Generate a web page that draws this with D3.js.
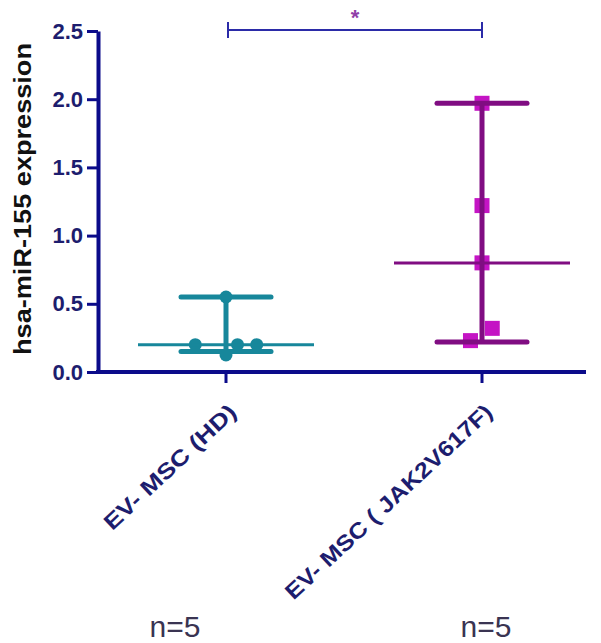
<!DOCTYPE html>
<html>
<head>
<meta charset="utf-8">
<script src="https://cdn.jsdelivr.net/npm/d3@7"></script>
<style>
  body { margin: 0; background: #fff; }
  svg text { font-family: "Liberation Sans", Arial, sans-serif; }
</style>
</head>
<body>
<div id="chart"></div>
<script>
const width = 601;
const height = 643;

// data
const groups = ['EV- MSC (HD)', 'EV- MSC ( JAK2V617F)'];
const hdValues = [0.20, 0.55, 0.125, 0.20, 0.20];
const hdJitter = [-0.12, 0, 0, 0.045, 0.12];
const jakValues = [1.97, 1.22, 0.80, 0.32, 0.23];
const jakJitter = [0, 0, 0, 0.04, -0.045];
const medians = [0.20, 0.80];
const rangeLow = [0.15, 0.22];
const rangeHigh = [0.55, 1.97];
const yTicks = [0, 0.5, 1.0, 1.5, 2.0, 2.5];
const nLabels = ['n=5', 'n=5'];
const sigLabel = '*';

const teal = '#17879b';
const purpleLine = '#800d82';
const purpleFill = '#c414c4';
const navy = '#0b0b8a';
const tickText = '#1d1d6e';

const svg = d3.select('#chart')
  .append('svg')
  .attr('width', width)
  .attr('height', height);

const yScale = d3.scaleLinear().domain([0, 2.5]).range([372, 31]);
const xScale = d3.scalePoint().domain(groups).range([226, 482]);
const step = xScale(groups[1]) - xScale(groups[0]);

// points first, lines go over them
const hd = hdValues.map((v, i) => ({ g: groups[0], v: v, j: hdJitter[i] }));
const jak = jakValues.map((v, i) => ({ g: groups[1], v: v, j: jakJitter[i] }));

svg.selectAll('circle.pt').data(hd)
  .enter().append('circle')
  .attr('class', 'pt')
  .attr('cx', d => xScale(d.g) + d.j * step)
  .attr('cy', d => yScale(d.v))
  .attr('r', 6.5)
  .attr('fill', teal);

svg.selectAll('rect.pt').data(jak)
  .enter().append('rect')
  .attr('class', 'pt')
  .attr('x', d => xScale(d.g) + d.j * step - 7.5)
  .attr('y', d => yScale(d.v) - 7.5)
  .attr('width', 15)
  .attr('height', 15)
  .attr('fill', purpleFill);

const stats = groups.map((g, i) => ({
  g: g, med: medians[i], lo: rangeLow[i], hi: rangeHigh[i],
  col: i === 0 ? teal : purpleLine
}));

const st = svg.selectAll('g.stat').data(stats).enter().append('g').attr('class', 'stat');

// range whisker
st.append('line')
  .attr('x1', d => xScale(d.g)).attr('x2', d => xScale(d.g))
  .attr('y1', d => yScale(d.lo)).attr('y2', d => yScale(d.hi))
  .attr('stroke', d => d.col).attr('stroke-width', 5);

st.selectAll('line.cap').data(d => [{ d: d, v: d.lo }, { d: d, v: d.hi }])
  .enter().append('line')
  .attr('class', 'cap')
  .attr('x1', c => xScale(c.d.g) - 45).attr('x2', c => xScale(c.d.g) + 45)
  .attr('y1', c => yScale(c.v)).attr('y2', c => yScale(c.v))
  .attr('stroke', c => c.d.col).attr('stroke-width', 5)
  .attr('stroke-linecap', 'round');

// median
st.append('line')
  .attr('x1', d => xScale(d.g) - 88).attr('x2', d => xScale(d.g) + 88)
  .attr('y1', d => yScale(d.med)).attr('y2', d => yScale(d.med))
  .attr('stroke', d => d.col).attr('stroke-width', 3);

// y axis
const yAxis = d3.axisLeft(yScale)
  .tickValues(yTicks)
  .tickFormat(d3.format('.1f'))
  .tickSize(11)
  .tickSizeOuter(0)
  .tickPadding(4);

const yG = svg.append('g')
  .attr('transform', 'translate(98,0)')
  .call(yAxis);
yG.select('.domain').attr('stroke', navy).attr('stroke-width', 4);
yG.selectAll('.tick line').attr('stroke', navy).attr('stroke-width', 3);
yG.selectAll('.tick text')
  .attr('fill', tickText)
  .attr('font-size', 22)
  .attr('font-weight', 'bold');

// x axis
svg.append('line')
  .attr('x1', 96).attr('x2', 586)
  .attr('y1', yScale(0)).attr('y2', yScale(0))
  .attr('stroke', navy).attr('stroke-width', 4);

svg.selectAll('line.xtick').data(groups)
  .enter().append('line')
  .attr('class', 'xtick')
  .attr('x1', d => xScale(d)).attr('x2', d => xScale(d))
  .attr('y1', yScale(0)).attr('y2', yScale(0) + 11)
  .attr('stroke', navy).attr('stroke-width', 3);

const labLen = [172, 274];
svg.selectAll('text.xlab').data(groups)
  .enter().append('text')
  .attr('class', 'xlab')
  .attr('transform', d => `translate(${xScale(d) + 12},414) rotate(-43)`)
  .attr('text-anchor', 'end')
  .attr('font-size', 22)
  .attr('font-weight', 'bold')
  .attr('fill', tickText)
  .attr('textLength', (d, i) => labLen[i])
  .attr('lengthAdjust', 'spacingAndGlyphs')
  .text(d => d);

const nX = [175, 486];
svg.selectAll('text.nlab').data(groups)
  .enter().append('text')
  .attr('class', 'nlab')
  .attr('x', (d, i) => nX[i])
  .attr('y', 637)
  .attr('text-anchor', 'middle')
  .attr('font-size', 30)
  .attr('fill', '#3a3452')
  .text((d, i) => nLabels[i]);

// y title
svg.append('text')
  .attr('transform', 'translate(31,199) rotate(-90)')
  .attr('text-anchor', 'middle')
  .attr('font-size', 23)
  .attr('font-weight', 'bold')
  .attr('fill', '#111')
  .attr('textLength', 312)
  .attr('lengthAdjust', 'spacingAndGlyphs')
  .text('hsa-miR-155 expression');

// significance bracket
const bx1 = xScale(groups[0]) + 2;
const bx2 = xScale(groups[1]);
svg.append('path')
  .attr('d', `M${bx1},22V38M${bx1},30H${bx2}M${bx2},22V38`)
  .attr('fill', 'none')
  .attr('stroke', '#2b2ba8')
  .attr('stroke-width', 2);

svg.append('text')
  .attr('x', (bx1 + bx2) / 2)
  .attr('y', 25)
  .attr('text-anchor', 'middle')
  .attr('font-size', 22)
  .attr('font-weight', 'bold')
  .attr('fill', '#9040a8')
  .text(sigLabel);
</script>
</body>
</html>
